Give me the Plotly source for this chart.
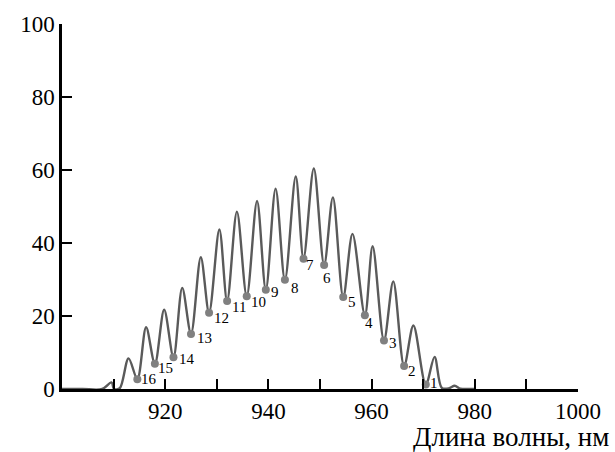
import plotly.graph_objects as go

# Spectrum trace (wavelength, nm / intensity)
wavelength = [900, 904.0, 907.8, 909.6, 910.1, 911.2, 912.9, 914.6, 916.3, 918.0, 919.8,
              921.6, 923.3, 925.0, 926.9, 928.5, 930.5, 932.0, 933.9, 935.8, 937.8,
              939.5, 941.4, 943.2, 945.3, 946.8, 948.8, 950.8, 952.5, 954.5, 956.3,
              958.7, 960.2, 962.4, 964.2, 966.3, 968.1, 970.5, 972.2, 973.6, 975.0,
              976.1, 977.2, 979.0, 980]
intensity = [0, 0, 0, 1.8, 0, 0.2, 8.4, 2.7, 16.9, 6.9, 21.7,
             8.7, 27.7, 15.1, 36.1, 20.9, 43.7, 24.1, 48.6, 25.4, 51.5,
             27.2, 54.9, 29.9, 58.2, 35.7, 60.4, 34.0, 52.5, 25.2, 42.5,
             20.2, 39.1, 13.3, 29.5, 6.3, 17.4, 1.2, 8.8, 0.3, 0.2,
             0.9, 0.1, 0, 0]

# Marked minima and their numbers
min_wl = [970.5, 966.3, 962.4, 958.7, 954.5, 950.8, 946.8, 943.2, 939.5, 935.8,
          932.0, 928.5, 925.0, 921.6, 918.0, 914.6]
min_val = [1.2, 6.3, 13.3, 20.2, 25.2, 34.0, 35.7, 29.9, 27.2, 25.4,
           24.1, 20.9, 15.1, 8.7, 6.9, 2.7]
min_labels = ["1", "2", "3", "4", "5", "6", "7", "8", "9", "10",
              "11", "12", "13", "14", "15", "16"]
# label pixel offsets (dx, dy) relative to each marker
label_dx = [8, 8, 9, 4, 9, 3, 7, 10, 9, 12, 12, 12, 13, 14, 11, 12]
label_dy = [-2, 5, 3, 8, 5, 13, 6, 8, 2, 6, 6, 5, 4, 2, 4, 0]

x_ticks = [910, 920, 930, 940, 950, 960, 970, 980, 990, 1000]
x_ticktext = ["", "920", "", "940", "", "960", "", "980", "", "1000"]
y_ticks = [0, 20, 40, 60, 80, 100]

SERIF = "Liberation Serif"

fig = go.Figure()
fig.add_trace(go.Scatter(
    x=wavelength, y=intensity, mode="lines",
    line=dict(color="#5a5a5a", width=2.4, shape="spline", smoothing=0.9),
    hoverinfo="skip", showlegend=False))
fig.add_trace(go.Scatter(
    x=min_wl, y=min_val, mode="markers",
    marker=dict(color="#808080", size=8),
    showlegend=False))

for xv, yv, t, dx, dy in zip(min_wl, min_val, min_labels, label_dx, label_dy):
    fig.add_annotation(x=xv, y=yv, text=t, showarrow=False,
                       xshift=dx, yshift=-dy,
                       font=dict(family=SERIF, size=15, color="black"))

fig.add_annotation(xref="paper", yref="paper", x=1.064, y=-0.1305,
                   xanchor="right", yanchor="middle", showarrow=False,
                   text="Длина волны, нм",
                   font=dict(family=SERIF, size=27, color="black"))

fig.update_layout(
    width=615, height=452,
    margin=dict(l=62, r=37, t=18, b=62.5),
    paper_bgcolor="white", plot_bgcolor="white",
    font=dict(family=SERIF, size=22, color="black"),
    showlegend=False,
)
fig.update_xaxes(
    range=[900, 1000], tickmode="array", tickvals=x_ticks, ticktext=x_ticktext,
    ticks="inside", ticklen=10, tickwidth=2, tickcolor="black",
    showline=True, linecolor="black", linewidth=2.5, showgrid=False,
    zeroline=False, tickfont=dict(family=SERIF, size=23, color="black"),
)
fig.update_yaxes(
    range=[0, 100], tickmode="array", tickvals=y_ticks,
    ticks="inside", ticklen=10, tickwidth=2, tickcolor="black",
    showline=True, linecolor="black", linewidth=2.5, showgrid=False,
    zeroline=False, tickfont=dict(family=SERIF, size=23, color="black"),
    ticklabelstandoff=0,
)

fig.write_html("out.html", config={"displayModeBar": False},
               post_script="document.body.style.margin='0';document.body.style.overflow='hidden';")
